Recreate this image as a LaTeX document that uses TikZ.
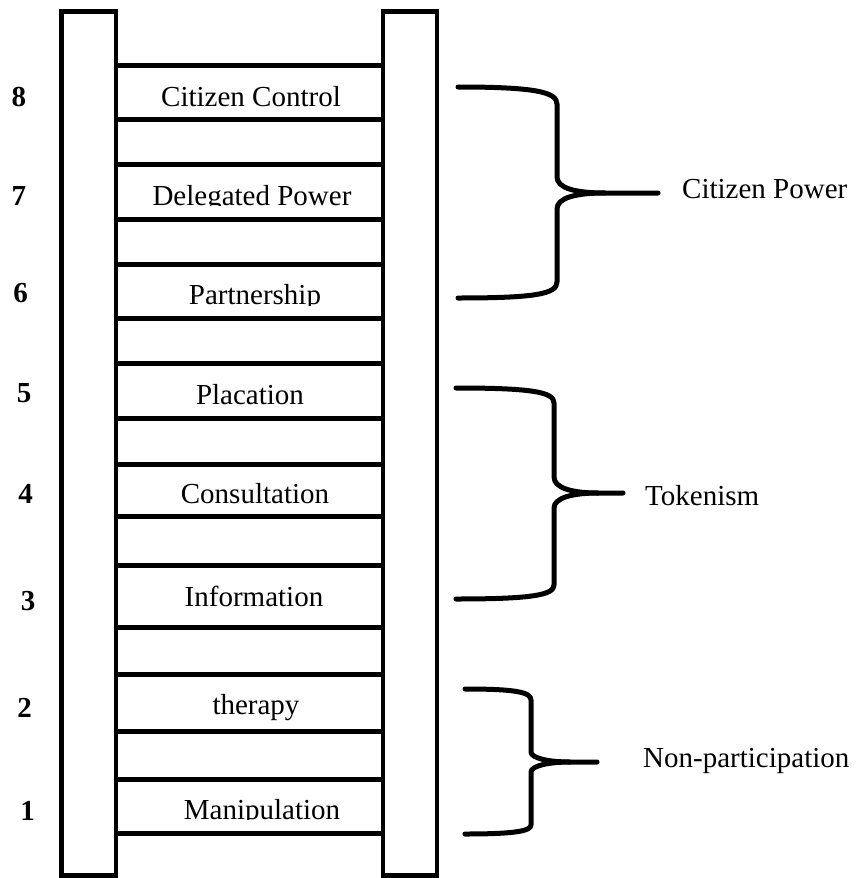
\documentclass[tikz,border=0pt]{standalone}
\usepackage{fontspec}
\setmainfont{Liberation Serif}
\begin{document}
\begin{tikzpicture}[x=1pt,y=-1pt,
  rail/.style={line width=4.6pt},
  rung/.style={line width=5pt},
  brace/.style={line width=5pt, line cap=round, line join=round},
  lbl/.style={font=\fontsize{29}{34}\selectfont, inner sep=0pt, anchor=base},
  num/.style={font=\fontsize{29}{34}\selectfont\bfseries, inner sep=0pt, anchor=base},
  grp/.style={font=\fontsize{29}{34}\selectfont, inner sep=0pt, anchor=base west}]
\useasboundingbox (0,0) rectangle (856,878);
% rails
\draw[rail] (61.5,11.5) rectangle (116,875.5);
\draw[rail] (383,11.5) rectangle (437,875.5);
% rungs
\foreach \y in {65,119,164,219,264.5,318,363,418,464,516,565,627,674,731,779,833}
  \draw[rung] (116,\y) -- (383,\y);
% rung labels
\node[lbl] (t8) at (251,106) {Citizen Control};
\begin{scope}
  \clip (118,166) rectangle (381,205.8);
  \node[lbl] (t7) at (252,205) {Delegated Power};
\end{scope}
\begin{scope}
  \clip (118,266) rectangle (381,305);
  \node[lbl] (t6) at (255,304) {Partnership};
\end{scope}
\node[lbl] (t5) at (250,404) {Placation};
\node[lbl] (t4) at (255,503) {Consultation};
\node[lbl] (t3) at (254,606) {Information};
\node[lbl] (t2) at (256,714) {therapy};
\begin{scope}
  \clip (118,781) rectangle (381,819.8);
  \node[lbl] (t1) at (262,819) {Manipulation};
\end{scope}
% numbers
\node[num] (n8) at (19,106) {8};
\node[num] (n7) at (19,205) {7};
\node[num] (n6) at (20.5,302) {6};
\node[num] (n5) at (24,402) {5};
\node[num] (n4) at (25.5,503) {4};
\node[num] (n3) at (28,610) {3};
\node[num] (n2) at (24.5,717) {2};
\node[num] (n1) at (27.5,820) {1};
% braces
\coordinate (tipA) at (658,193);
\draw[brace] (458,87) .. controls (535,87) and (557,92) .. (557,104) -- (557,177)
  .. controls (557,188) and (575,193) .. (605,193) -- (tipA);
\draw[brace] (605,193) .. controls (575,193) and (557,198) .. (557,209) -- (557,282)
  .. controls (557,294) and (535,298) .. (458,298);
\coordinate (tipB) at (623,493);
\draw[brace] (456,388) .. controls (532,388) and (554,392) .. (554,403) -- (554,477)
  .. controls (554,488) and (572,493) .. (598,493) -- (tipB);
\draw[brace] (598,493) .. controls (572,493) and (554,498) .. (554,508) -- (554,585)
  .. controls (554,595) and (532,599) .. (456,599);
\coordinate (tipC) at (597,762);
\draw[brace] (465,689) .. controls (515,689) and (531,692) .. (531,700) -- (531,752)
  .. controls (531,758) and (548,762) .. (570,762) -- (tipC);
\draw[brace] (570,762) .. controls (548,762) and (531,766) .. (531,772) -- (531,825)
  .. controls (531,831) and (515,834) .. (465,834);
% group labels
\node[grp] (gA) at (682,198) {Citizen Power};
\node[grp] (gB) at (645,505) {Tokenism};
\node[grp] (gC) at (643,767) {Non-participation};
\end{tikzpicture}
\end{document}
